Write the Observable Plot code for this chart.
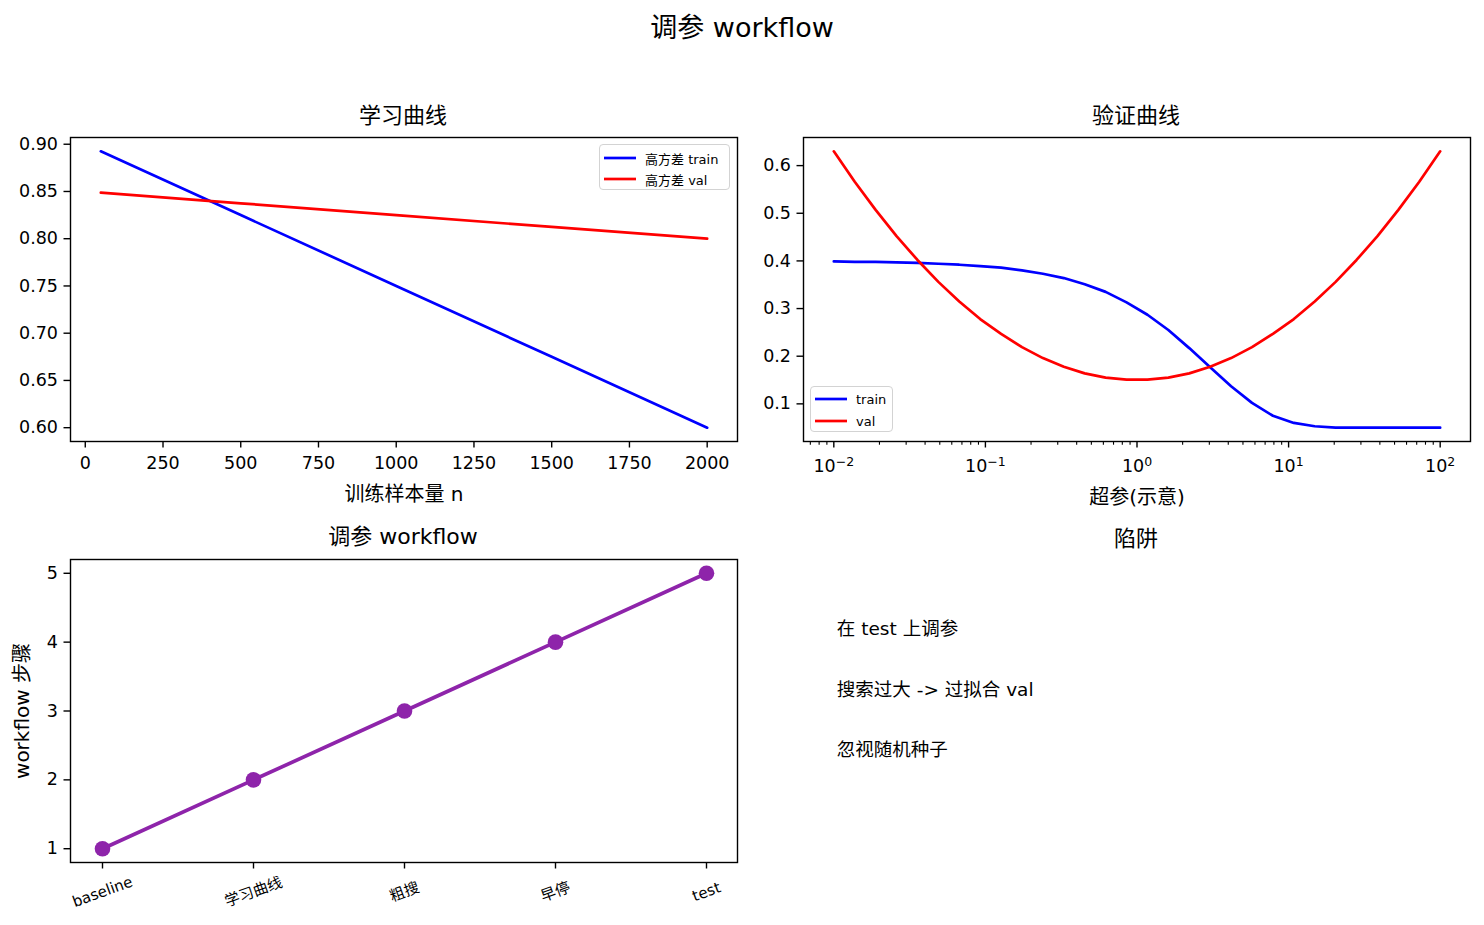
<!DOCTYPE html>
<html><head><meta charset="utf-8">
<script src="https://cdn.jsdelivr.net/npm/d3@7"></script>
<script src="https://cdn.jsdelivr.net/npm/@observablehq/plot@0.6"></script>
<style>
body{margin:0;background:#fff;}
#fig{position:relative;width:1484px;height:925px;background:#fff;font-family:"DejaVu Sans","Noto Sans CJK SC",sans-serif;color:#000;overflow:hidden;}
.pl{position:absolute;}
.title{position:absolute;transform:translate(-50%,-50%);white-space:nowrap;font-size:22px;line-height:1;}
.legend{position:absolute;box-sizing:border-box;background:rgba(255,255,255,0.85);border:1.3px solid #d3d3d3;border-radius:4px;font-size:13px;}
.row{position:absolute;display:flex;align-items:center;height:16px;white-space:nowrap;}
.row svg{margin-right:9px;}
</style></head>
<body><div id="fig"></div>
<script>
// ---- data ----
const nSamples = [50, 500, 1000, 1500, 2000];
const trainHighVar = [0.8925, 0.825, 0.75, 0.675, 0.60];
const valHighVar = [0.8488, 0.8375, 0.825, 0.8125, 0.80];

const hyperParam = [0.01, 0.01374, 0.01887, 0.02593, 0.03562, 0.04894, 0.06723, 0.09237, 0.1269, 0.1743,
  0.2395, 0.3290, 0.4520, 0.6210, 0.8532, 1.172, 1.610, 2.212, 3.039, 4.175,
  5.736, 7.880, 10.83, 14.87, 20.43, 28.07, 38.57, 52.98, 72.79, 100];
const trainScore = [0.399, 0.398, 0.398, 0.397, 0.396, 0.394, 0.392, 0.389, 0.386, 0.380,
  0.373, 0.364, 0.351, 0.335, 0.313, 0.287, 0.255, 0.217, 0.177, 0.137,
  0.102, 0.075, 0.060, 0.053, 0.050, 0.050, 0.050, 0.050, 0.050, 0.050];
const valScore = [0.630, 0.566, 0.507, 0.452, 0.402, 0.356, 0.315, 0.278, 0.247, 0.219,
  0.196, 0.178, 0.164, 0.155, 0.151, 0.151, 0.155, 0.164, 0.178, 0.196,
  0.219, 0.247, 0.278, 0.315, 0.356, 0.402, 0.452, 0.507, 0.566, 0.630];

const steps = ["baseline", "学习曲线", "粗搜", "早停", "test"];
const stepIndex = [1, 2, 3, 4, 5];

const pitfalls = ["在 test 上调参", "搜索过大 -> 过拟合 val", "忽视随机种子"];

const titles = {sup: "调参 workflow", a: "学习曲线", b: "验证曲线", c: "调参 workflow", d: "陷阱"};
const legendA = ["高方差 train", "高方差 val"];
const legendB = ["train", "val"];

const xTicksA = [0, 250, 500, 750, 1000, 1250, 1500, 1750, 2000];
const yTicksA = [0.60, 0.65, 0.70, 0.75, 0.80, 0.85, 0.90];
const xTicksB = [0.01, 0.1, 1, 10, 100];
const xTickExpB = ["−2", "−1", "0", "1", "2"];
const yTicksB = [0.1, 0.2, 0.3, 0.4, 0.5, 0.6];
const yTicksC = [1, 2, 3, 4, 5];

// ---- helpers ----
const fig = document.getElementById("fig");
const FONT = '"DejaVu Sans","Noto Sans CJK SC",sans-serif';
const TICK = {tickSize: 6.5, tickPadding: 6, strokeWidth: 1.4, fontSize: 17.5};
const TICKX = {...TICK, tickPadding: 9};
function place(el, left, top) {
  el.classList.add("pl"); el.style.left = left + "px"; el.style.top = top + "px"; fig.appendChild(el);
}
function title(text, cx, cy, size) {
  const d = document.createElement("div"); d.className = "title"; d.textContent = text;
  d.style.left = cx + "px"; d.style.top = cy + "px"; if (size) d.style.fontSize = size + "px";
  fig.appendChild(d);
}
function legend(labels, colors, left, top, width, height, rowTops) {
  const box = document.createElement("div"); box.className = "legend";
  Object.assign(box.style, {left: left + "px", top: top + "px", width: width + "px", height: height + "px"});
  labels.forEach((lab, i) => {
    const r = document.createElement("div"); r.className = "row";
    r.style.left = "4px"; r.style.top = (rowTops[i] - 8) + "px";
    r.innerHTML = `<svg width="32" height="16"><line x1="0" x2="32" y1="8" y2="8" stroke="${colors[i]}" stroke-width="2.7"/></svg><span>${lab}</span>`;
    box.appendChild(r);
  });
  fig.appendChild(box);
}
function setLabelSize(svg, text, size) {
  svg.querySelectorAll("text").forEach(t => { if (t.textContent === text) t.setAttribute("font-size", size); });
}
const style = {fontFamily: FONT, fontSize: "17.5px", background: "transparent", overflow: "visible", color: "#000"};

// ---- A: learning curve ----
const dataA = nSamples.map((n, i) => ({n, train: trainHighVar[i], val: valHighVar[i]}));
const yMinA = 0.60, yMaxA = 0.8925, padA = (yMaxA - yMinA) * 0.05;
const plotA = Plot.plot({
  width: 760, height: 420, marginLeft: 70, marginRight: 23, marginTop: 37, marginBottom: 79,
  style,
  x: {domain: [50 - 97.5, 2000 + 97.5]},
  y: {domain: [yMinA - padA, yMaxA + padA]},
  marks: [
    Plot.line(dataA, {x: "n", y: "train", stroke: "#0000ff", strokeWidth: 2.7}),
    Plot.line(dataA, {x: "n", y: "val", stroke: "#ff0000", strokeWidth: 2.7}),
    Plot.frame({stroke: "#000", strokeWidth: 1.4}),
    Plot.axisX({...TICKX, ticks: xTicksA, tickFormat: d3.format("d"), label: "训练样本量 n", labelAnchor: "center", labelArrow: "none", labelOffset: 59}),
    Plot.axisY({...TICK, ticks: yTicksA, tickFormat: d3.format(".2f"), label: null})
  ]
});
setLabelSize(plotA, "训练样本量 n", 20);
place(plotA, 0, 100);

// ---- B: validation curve ----
const dataB = hyperParam.map((h, i) => ({h, train: trainScore[i], val: valScore[i]}));
const minorB = [];
for (let k = -3; k <= 2; k++) for (let m = 2; m <= 9; m++) {
  const v = m * Math.pow(10, k);
  if (v > Math.pow(10, -2.2) && v < Math.pow(10, 2.2)) minorB.push(v);
}
const yMinB = 0.05, yMaxB = 0.63, padB = (yMaxB - yMinB) * 0.05;
const plotB = Plot.plot({
  width: 724, height: 420, marginLeft: 43, marginRight: 14, marginTop: 37, marginBottom: 79,
  style,
  x: {type: "log", domain: [Math.pow(10, -2.2), Math.pow(10, 2.2)]},
  y: {domain: [yMinB - padB, yMaxB + padB]},
  marks: [
    Plot.line(dataB, {x: "h", y: "train", stroke: "#0000ff", strokeWidth: 2.7}),
    Plot.line(dataB, {x: "h", y: "val", stroke: "#ff0000", strokeWidth: 2.7}),
    Plot.frame({stroke: "#000", strokeWidth: 1.4}),
    Plot.axisX({tickSize: 3.7, strokeWidth: 1.1, ticks: minorB, tickFormat: () => "", label: null}),
    Plot.axisX({...TICK, tickPadding: 12, ticks: xTicksB, tickFormat: d => "10^" + xTickExpB[xTicksB.indexOf(d)], label: "超参(示意)", labelAnchor: "center", labelArrow: "none", labelOffset: 62}),
    Plot.axisY({...TICK, ticks: yTicksB, tickFormat: d3.format(".1f"), label: null})
  ]
});
setLabelSize(plotB, "超参(示意)", 20);
// render exponents as raised superscripts
plotB.querySelectorAll("text").forEach(t => {
  const s = t.textContent;
  if (s.startsWith("10^")) {
    const exp = s.slice(3);
    while (t.firstChild) t.removeChild(t.firstChild);
    const base = document.createElementNS("http://www.w3.org/2000/svg", "tspan");
    base.textContent = "10";
    const sup = document.createElementNS("http://www.w3.org/2000/svg", "tspan");
    sup.textContent = exp; sup.setAttribute("dy", "-0.5em"); sup.setAttribute("font-size", "12.5");
    t.appendChild(base); t.appendChild(sup);
  }
});
place(plotB, 760, 100);

// ---- C: workflow ----
const dataC = steps.map((s, i) => ({step: s, v: stepIndex[i]}));
const plotC = Plot.plot({
  width: 760, height: 405, marginLeft: 70, marginRight: 23, marginTop: 39, marginBottom: 63,
  style,
  x: {type: "point", domain: steps, padding: 0.2},
  y: {domain: [0.8, 5.2]},
  marks: [
    Plot.line(dataC, {x: "step", y: "v", stroke: "#8e24aa", strokeWidth: 3.7}),
    Plot.dot(dataC, {x: "step", y: "v", fill: "#8e24aa", r: 7.8}),
    Plot.frame({stroke: "#000", strokeWidth: 1.4}),
    Plot.axisX({tickSize: 6.5, strokeWidth: 1.4, tickPadding: 23, tickRotate: -20, textAnchor: "middle", lineAnchor: "middle", fontSize: 15, label: null}),
    Plot.axisY({...TICK, ticks: yTicksC, tickFormat: d3.format("d"), label: "workflow 步骤", labelAnchor: "center", labelArrow: "none", labelOffset: 56})
  ]
});
setLabelSize(plotC, "workflow 步骤", 20);
place(plotC, 0, 520);

// ---- D: pitfalls ----
const plotD = Plot.plot({
  width: 724, height: 405, marginLeft: 43, marginRight: 14, marginTop: 39, marginBottom: 63,
  style: {...style, fontSize: "18.5px"},
  x: {domain: [0, 1], axis: null},
  y: {domain: [0, 1], axis: null},
  marks: [
    Plot.text(pitfalls, {x: () => 0.05, y: (d, i) => 0.75 - 0.2 * i, text: d => d, textAnchor: "start", lineAnchor: "bottom", fontSize: 18.5})
  ]
});
place(plotD, 760, 520);

// ---- titles & legends ----
title(titles.sup, 742, 27, 27);
title(titles.a, 403, 116);
title(titles.b, 1136, 116);
title(titles.c, 403, 537);
title(titles.d, 1136, 539);
legend(legendA, ["#0000ff", "#ff0000"], 599, 144, 131, 46, [13, 34]);
legend(legendB, ["#0000ff", "#ff0000"], 810, 386, 83, 46, [12, 34]);
</script></body></html>
